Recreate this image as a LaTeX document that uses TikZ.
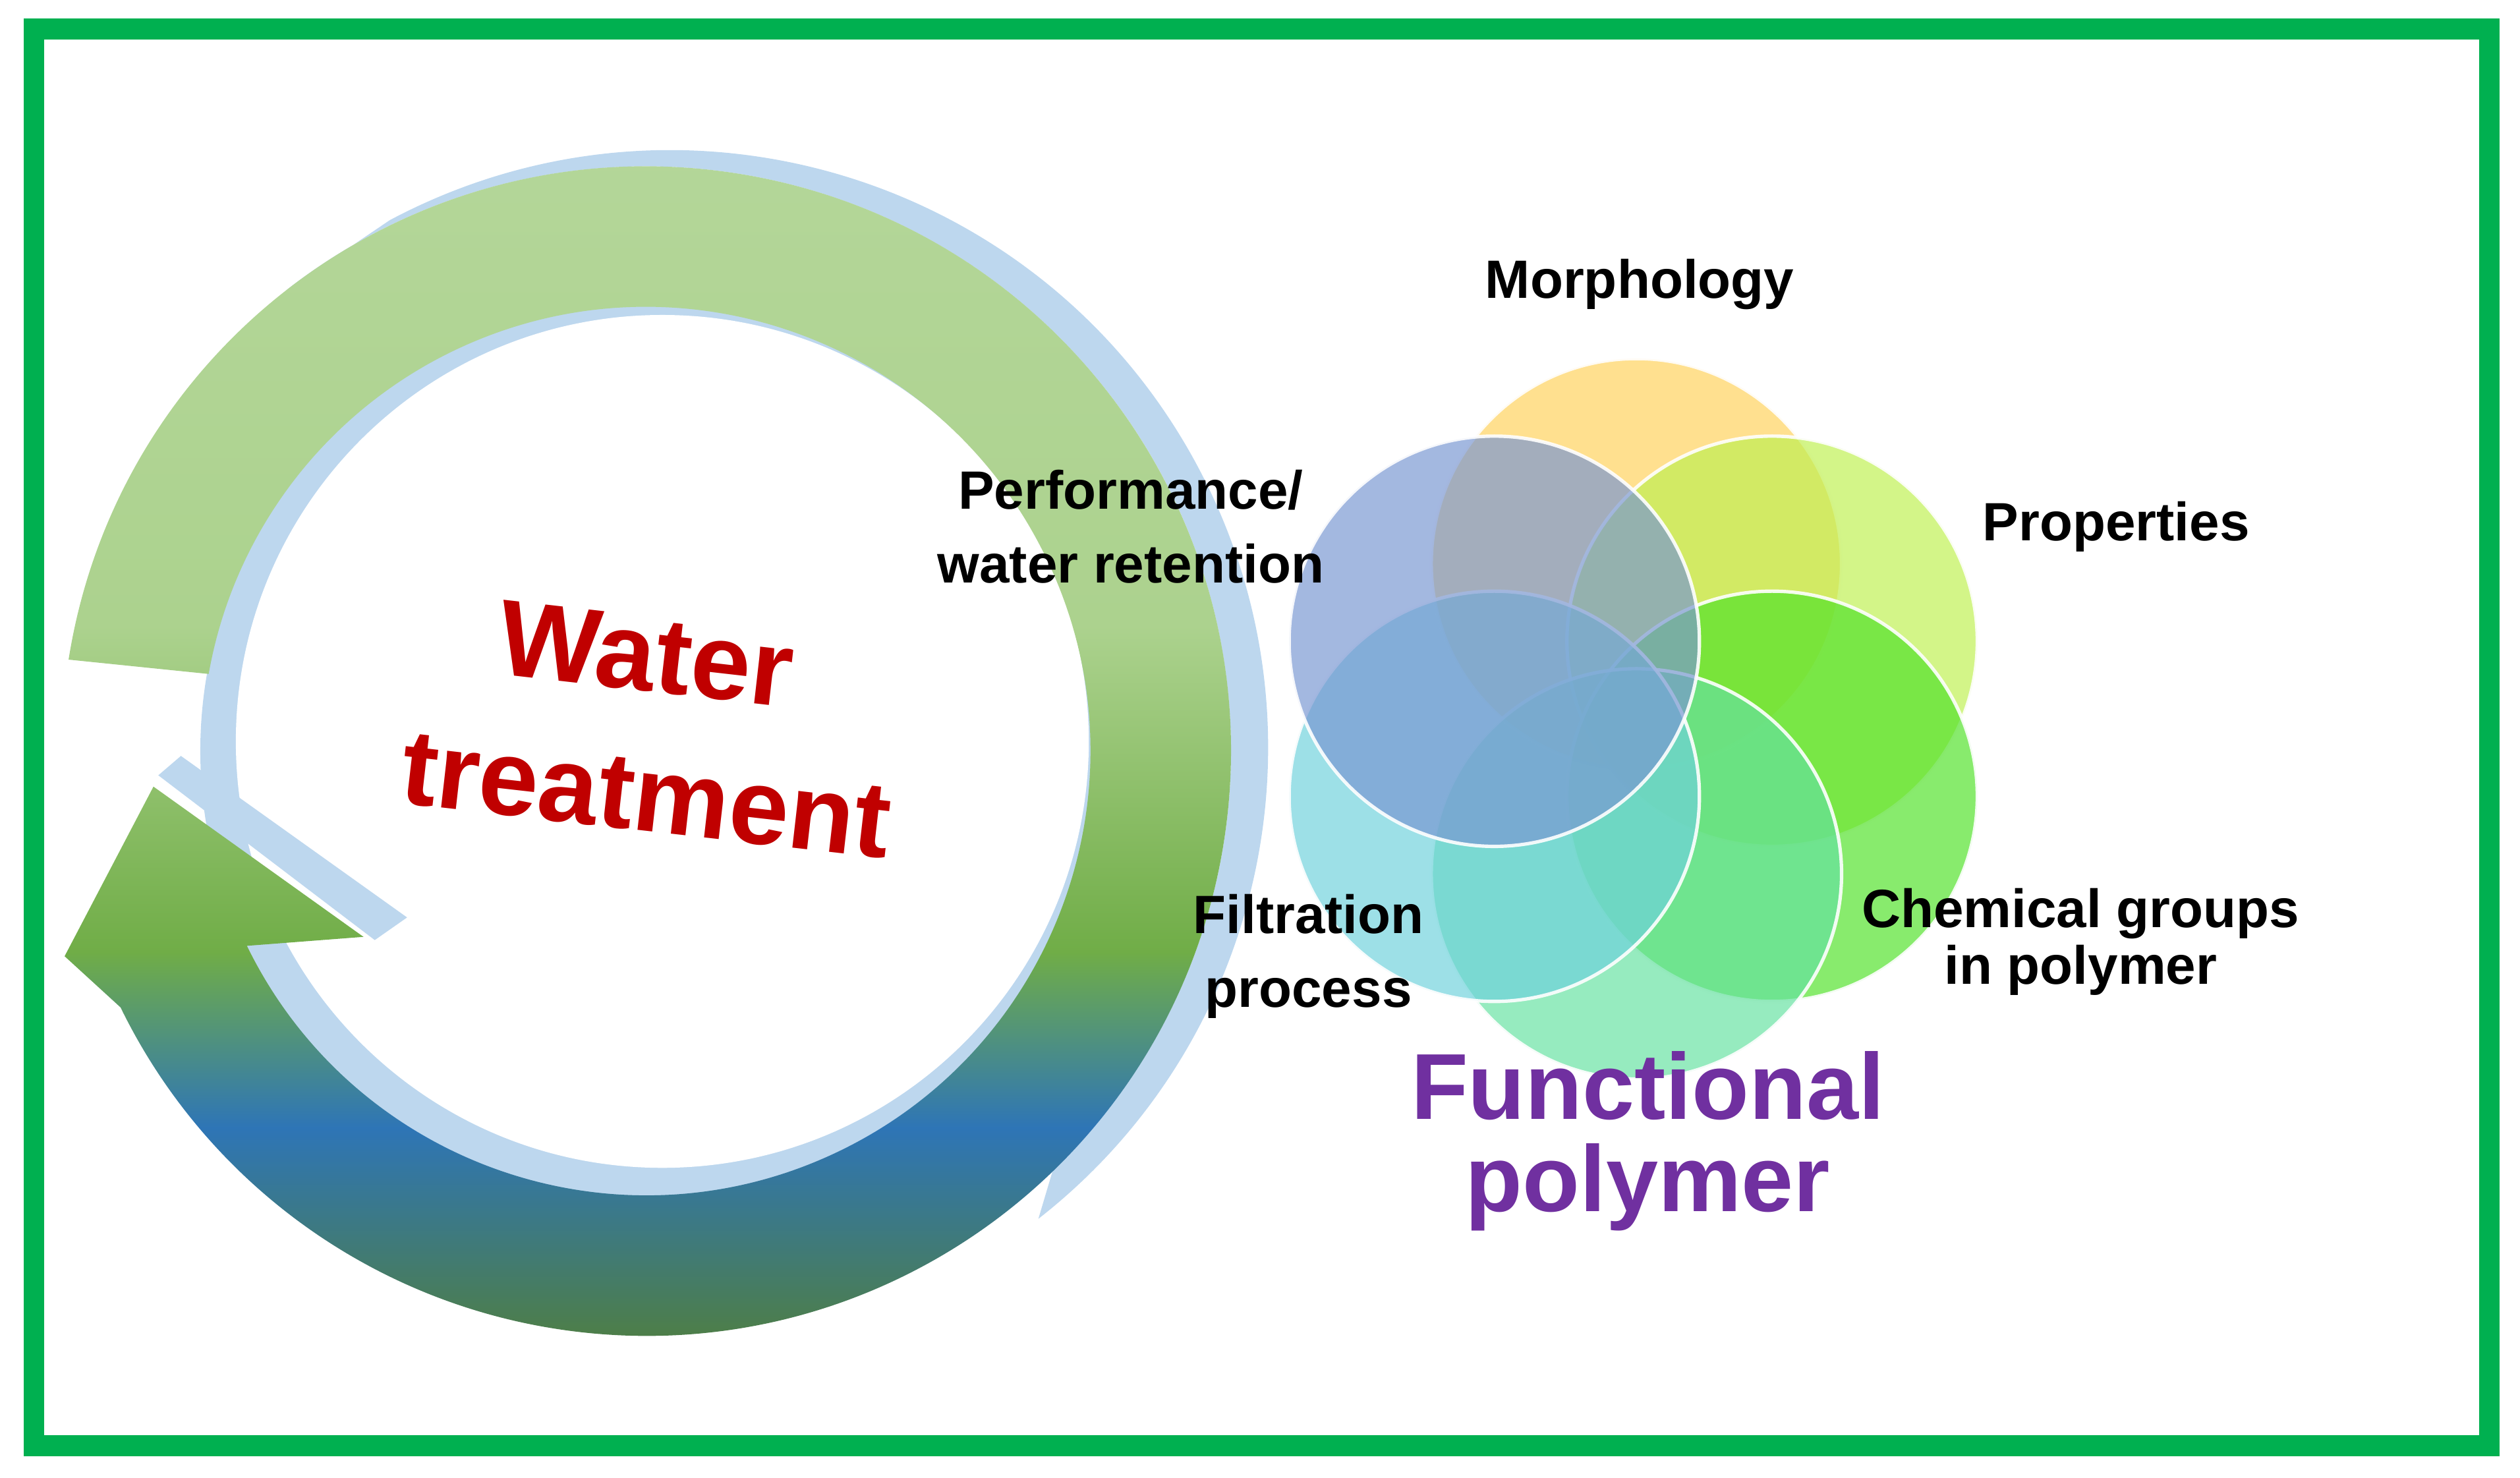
\documentclass[tikz,border=0pt]{standalone}
\usepackage{fontspec}
\setmainfont{Liberation Sans}
\begin{document}
\begin{tikzpicture}
        % Define colors
        \definecolor{frame}{RGB}{0,176,80}
        \definecolor{shadow}{RGB}{189,215,238}
        \definecolor{lightgr}{RGB}{172,210,142}
        \definecolor{midgr}{RGB}{112,173,71}
        \definecolor{blueR}{RGB}{46,117,182}
        \definecolor{darkgr}{RGB}{84,128,50}
        \definecolor{wred}{RGB}{192,0,0}
        \definecolor{fpurple}{RGB}{112,48,160}
        \definecolor{cyel}{RGB}{255,210,90}
        \definecolor{cblue}{RGB}{120,150,210}
        \definecolor{clime}{RGB}{190,240,80}
        \definecolor{cgreen}{RGB}{80,225,40}
        \definecolor{cmint}{RGB}{100,225,160}
        \definecolor{ccyan}{RGB}{110,210,220}
        \pgfdeclareverticalshading{ringshade}{100bp}{color(0bp)=(darkgr); color(25bp)=(darkgr); color(35bp)=(blueR); color(42bp)=(midgr); color(55bp)=(lightgr); color(75bp)=(lightgr!90!white); color(100bp)=(lightgr!90!white)}
        \tikzset{
            label/.style={font=\fontsize{9.5}{13}\selectfont\bfseries, align=center},
            big/.style={font=\fontsize{19}{22}\selectfont\bfseries\upshape, text=wred, rotate=-6.5},
            petal/.style={fill opacity=0.68, draw=white, draw opacity=0.9, line width=0.6pt}
        }

        % Bounding box and frame
        \useasboundingbox (0,0) rectangle (15.6,9.15);
        \draw[frame, line width=0.13cm] (0.21,0.2) rectangle (15.41,8.97);

        % --- ring shadow ---
        \fill[shadow] ([shift={(4,4.5)}]128:3.62) -- ([shift={(4.15,4.52)}]118:3.7)
            arc[start angle=118, end angle=-52, radius=3.7]
            -- ([shift={(4,4.5)}]-46:3.62) arc[start angle=-46, end angle=128, radius=3.62] -- cycle;
        \fill[shadow] (4,4.5) circle (2.76);
        \fill[white] (4.1,4.56) circle (2.64);
        \fill[shadow] (1.12,4.47) -- (2.52,3.47) -- (2.32,3.33) -- (0.98,4.35) -- cycle;

        % --- circular arrow ---
        \shade[shading=ringshade] ([shift={(4,4.5)}]171:3.62) arc[start angle=171, end angle=-154, radius=3.62]
            -- (0.40,3.23) -- (0.95,4.28) -- (2.25,3.35)
            -- ([shift={(4,4.5)}]-154:2.75) arc[start angle=-154, end angle=170, radius=2.75] -- cycle;

        % Water treatment
        \node[big] (water) at (4.0,5.1) {Water};
        \node[big] (treat) at (4.0,4.22) {treatment};

        % --- petals ---
        \fill[cyel, petal] (10.13,5.66) circle (1.27);
        \fill[clime, petal] (10.97,5.18) circle (1.27);
        \fill[cgreen, petal] (10.97,4.22) circle (1.27);
        \fill[cmint, petal] (10.13,3.74) circle (1.27);
        \fill[ccyan, petal] (9.25,4.22) circle (1.27);
        \fill[cblue, petal] (9.25,5.18) circle (1.27);

        % Labels
        \node[label] (morph) at (10.15,7.39) {Morphology};
        \node[label] (prop) at (13.1,5.89) {Properties};
        \node[label] (chem) at (12.88,3.32) {Chemical groups\\[-3pt]in polymer};
        \node[label] (filt) at (8.1,3.23) {Filtration\\process};
        \node[label] (perf) at (7.0,5.89) {Performance/\\water retention};
        \node[text=fpurple, font=\fontsize{16.5}{19}\selectfont\bfseries] (func) at (10.2,2.43) {Functional};
        \node[text=fpurple, font=\fontsize{16.5}{19}\selectfont\bfseries] (poly) at (10.2,1.8) {polymer};

    \end{tikzpicture}
\end{document}
